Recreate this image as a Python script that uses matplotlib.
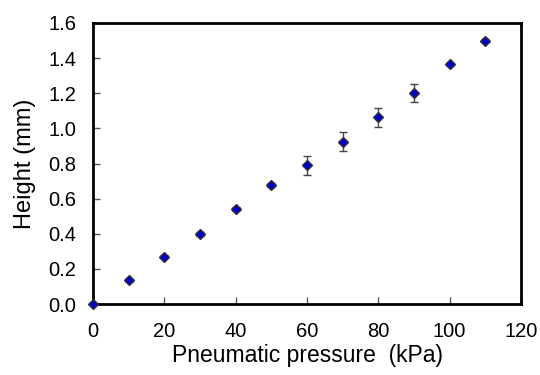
import matplotlib
matplotlib.use("Agg")
import matplotlib.pyplot as plt

pressure = [0, 10, 20, 30, 40, 50, 60, 70, 80, 90, 100, 110]
height = [0.0, 0.135, 0.27, 0.40, 0.542, 0.677, 0.79, 0.925, 1.062, 1.20, 1.365, 1.50]
height_err = [0.0, 0.01, 0.01, 0.01, 0.01, 0.01, 0.054, 0.053, 0.053, 0.051, 0.01, 0.01]

plt.rcParams['font.family'] = ['Liberation Sans', 'DejaVu Sans']

fig = plt.figure(figsize=(5.4, 3.75), dpi=100)
ax = fig.add_axes([93/540, 1 - 304/375, (521-93)/540, (304-23)/375])

ax.errorbar(pressure, height, yerr=height_err, fmt='D', color='#0000cc',
            markersize=5.5, markeredgecolor='#333333', markeredgewidth=1.0,
            ecolor='#444444', elinewidth=1.0, capsize=3, capthick=1.0, clip_on=False, zorder=3)

ax.set_xlim(0, 120)
ax.set_ylim(0, 1.6)
ax.set_xticks(range(0, 121, 20))
yt = [0.0, 0.2, 0.4, 0.6, 0.8, 1.0, 1.2, 1.4, 1.6]
ax.set_yticks(yt)
ax.set_yticklabels([f"{v:.1f}" for v in yt])
ax.tick_params(axis='both', direction='in', length=5, width=1, labelsize=14.5, color='#555555')
ax.tick_params(axis='x', pad=13)
ax.tick_params(axis='y', pad=12)
ax.tick_params(top=False, right=False)
for s in ax.spines.values():
    s.set_linewidth(2)
    s.set_color('black')

ax.set_xlabel('Pneumatic pressure  (kPa)', fontsize=16.5, labelpad=2)
ax.set_ylabel('Height (mm)', fontsize=17, labelpad=9)

fig.savefig('out.png', dpi=100)
